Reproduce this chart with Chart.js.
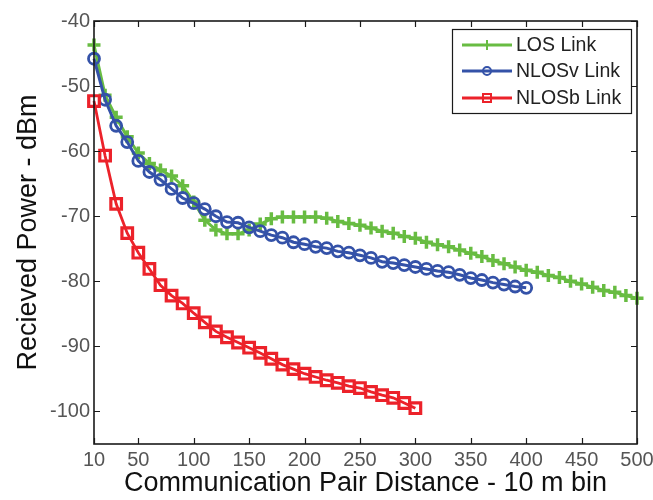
<!DOCTYPE html>
<html>
<head>
<meta charset="utf-8">
<script src="https://cdn.jsdelivr.net/npm/chart.js@4/dist/chart.umd.min.js"></script>
<style>
  html, body { margin: 0; padding: 0; background: #fff; }
  #wrap { width: 653px; height: 500px; }
</style>
</head>
<body>
<div id="wrap"><canvas id="powerChart" width="653" height="500"></canvas></div>
<script>
// distance bins (10 m each)
const distance = [10, 20, 30, 40, 50, 60, 70, 80, 90, 100,
    110, 120, 130, 140, 150, 160, 170, 180, 190, 200,
    210, 220, 230, 240, 250, 260, 270, 280, 290, 300,
    310, 320, 330, 340, 350, 360, 370, 380, 390, 400,
    410, 420, 430, 440, 450, 460, 470, 480, 490, 500];

// received power, dBm
const losPower = [-43.7, -51.4, -54.8, -57.8, -60.3, -61.9, -62.9, -63.8, -65.3, -67.8,
    -70.6, -72.1, -72.7, -72.7, -72.1, -71.2, -70.4, -70.1, -70.1, -70.1,
    -70.1, -70.3, -70.8, -71.1, -71.4, -71.8, -72.3, -72.6, -73.1, -73.4,
    -74.0, -74.4, -74.7, -75.2, -75.7, -76.2, -76.8, -77.3, -77.8, -78.3,
    -78.6, -79.1, -79.4, -80.0, -80.4, -80.9, -81.4, -81.7, -82.2, -82.6];
const nlosvPower = [-45.8, -52.1, -56.1, -58.6, -61.5, -63.2, -64.4, -65.8, -67.2, -68.0,
    -68.9, -70.0, -70.9, -71.0, -71.7, -72.3, -72.9, -73.3, -74.0, -74.3,
    -74.7, -74.9, -75.4, -75.6, -76.0, -76.4, -77.0, -77.2, -77.5, -77.8,
    -78.1, -78.4, -78.6, -79.0, -79.5, -79.8, -80.2, -80.5, -80.8, -81.0];
const nlosbPower = [-52.3, -60.7, -68.1, -72.6, -75.6, -78.1, -80.6, -82.2, -83.4, -84.9,
    -86.3, -87.7, -88.6, -89.4, -90.2, -91.0, -91.9, -92.8, -93.5, -94.2,
    -94.7, -95.2, -95.6, -96.1, -96.4, -97.0, -97.5, -97.9, -98.7, -99.5];

const seriesNames = ['LOS Link', 'NLOSv Link', 'NLOSb Link'];
const xTicks = [10, 50, 100, 150, 200, 250, 300, 350, 400, 450, 500];
const yTicks = [-100, -90, -80, -70, -60, -50, -40];

const GREEN = 'rgb(104,188,66)';
const BLUE = 'rgb(52,82,168)';
const RED = 'rgb(236,34,42)';
const FONT = 'Arial, "Liberation Sans", sans-serif';

function toPoints(values) {
    return values.map((v, i) => ({ x: distance[i], y: v }));
}

// marker helper used by the legend box
function drawMarker(ctx, style, x, y, r, color, lw) {
    ctx.save();
    ctx.strokeStyle = color;
    ctx.lineWidth = lw;
    ctx.beginPath();
    if (style === 'cross') {
        ctx.moveTo(x - r, y); ctx.lineTo(x + r, y);
        ctx.moveTo(x, y - r); ctx.lineTo(x, y + r);
    } else if (style === 'circle') {
        ctx.arc(x, y, r, 0, Math.PI * 2);
    } else {
        ctx.rect(x - r, y - r, 2 * r, 2 * r);
    }
    ctx.stroke();
    ctx.restore();
}

// box frame, inward ticks on all four sides, and the legend
const framePlugin = {
    id: 'frame',
    afterDatasetsDraw(chart) {
        const { ctx, chartArea: a, scales } = chart;
        ctx.save();
        ctx.strokeStyle = '#1a1a1a';
        ctx.lineWidth = 1.2;
        ctx.beginPath();
        xTicks.forEach(v => {
            const px = Math.round(scales.x.getPixelForValue(v)) + 0.5;
            ctx.moveTo(px, a.bottom); ctx.lineTo(px, a.bottom - 6);
            ctx.moveTo(px, a.top); ctx.lineTo(px, a.top + 6);
        });
        yTicks.forEach(v => {
            const py = Math.round(scales.y.getPixelForValue(v)) + 0.5;
            ctx.moveTo(a.left, py); ctx.lineTo(a.left + 6, py);
            ctx.moveTo(a.right, py); ctx.lineTo(a.right - 6, py);
        });
        ctx.stroke();
        ctx.lineWidth = 1.6;
        ctx.strokeRect(a.left, a.top, a.right - a.left, a.bottom - a.top);

        // legend
        const bx = 452, by = 29, bw = 179, bh = 84;
        ctx.fillStyle = '#fff';
        ctx.fillRect(bx, by, bw, bh);
        ctx.lineWidth = 1.2;
        ctx.strokeStyle = '#1a1a1a';
        ctx.strokeRect(bx + 0.5, by + 0.5, bw, bh);
        const rows = [45, 71, 98];
        chart.data.datasets.forEach((ds, i) => {
            const y = rows[i];
            ctx.strokeStyle = ds.borderColor;
            ctx.lineWidth = ds.borderWidth;
            ctx.beginPath();
            ctx.moveTo(462, y); ctx.lineTo(512, y);
            ctx.stroke();
            drawMarker(ctx, ds.pointStyle, 487, y, ds.pointStyle === 'cross' ? 5 : 4, ds.borderColor, 2);
            ctx.fillStyle = '#222';
            ctx.font = '19.5px ' + FONT;
            ctx.textBaseline = 'middle';
            ctx.textAlign = 'left';
            ctx.fillText(ds.label, 516, y + 1);
        });
        ctx.restore();
    }
};

const ctx = document.getElementById('powerChart').getContext('2d');
new Chart(ctx, {
    type: 'line',
    data: {
        datasets: [{
            label: seriesNames[0],
            data: toPoints(losPower),
            borderColor: GREEN,
            borderWidth: 3,
            pointStyle: 'cross',
            pointRadius: 6.5,
            pointBorderWidth: 3.5,
            pointBorderColor: GREEN,
            order: 3
        }, {
            label: seriesNames[1],
            data: toPoints(nlosvPower),
            borderColor: BLUE,
            borderWidth: 3,
            pointStyle: 'circle',
            pointRadius: 5.5,
            pointBorderWidth: 2.8,
            pointBorderColor: BLUE,
            pointBackgroundColor: 'rgba(0,0,0,0)',
            order: 2
        }, {
            label: seriesNames[2],
            data: toPoints(nlosbPower),
            borderColor: RED,
            borderWidth: 2.8,
            pointStyle: 'rect',
            pointRadius: 7.5,
            pointBorderWidth: 3.2,
            pointBorderColor: RED,
            pointBackgroundColor: 'rgba(0,0,0,0)',
            order: 1
        }]
    },
    options: {
        responsive: false,
        animation: false,
        clip: false,
        layout: { padding: { left: 0, top: 21, right: 16, bottom: 0 } },
        plugins: {
            legend: { display: false },
            tooltip: { enabled: false }
        },
        elements: { line: { tension: 0 } },
        scales: {
            x: {
                type: 'linear',
                min: 10,
                max: 500,
                afterBuildTicks: s => { s.ticks = xTicks.map(v => ({ value: v })); },
                afterFit: s => { s.height = 56; s.paddingLeft = 0; s.paddingRight = 0; },
                grid: { display: false, drawTicks: false, tickLength: 0 },
                border: { display: false },
                ticks: {
                    color: '#555',
                    font: { family: FONT, size: 20 },
                    padding: 4,
                    maxRotation: 0,
                    autoSkip: false
                },
                title: {
                    display: true,
                    text: 'Communication Pair Distance - 10 m bin',
                    color: '#111',
                    font: { family: FONT, size: 27 },
                    padding: { top: 0, bottom: 0 }
                }
            },
            y: {
                min: -105,
                max: -40,
                afterBuildTicks: s => { s.ticks = yTicks.map(v => ({ value: v })); },
                afterFit: s => { s.width = 94; s.paddingTop = 0; s.paddingBottom = 0; },
                grid: { display: false, drawTicks: false, tickLength: 0 },
                border: { display: false },
                ticks: {
                    color: '#555',
                    font: { family: FONT, size: 20 },
                    padding: 4,
                    autoSkip: false
                },
                title: {
                    display: true,
                    text: 'Recieved Power - dBm',
                    color: '#111',
                    font: { family: FONT, size: 27 },
                    padding: { top: 12, bottom: 0 }
                }
            }
        }
    },
    plugins: [framePlugin]
});
</script>
</body>
</html>
